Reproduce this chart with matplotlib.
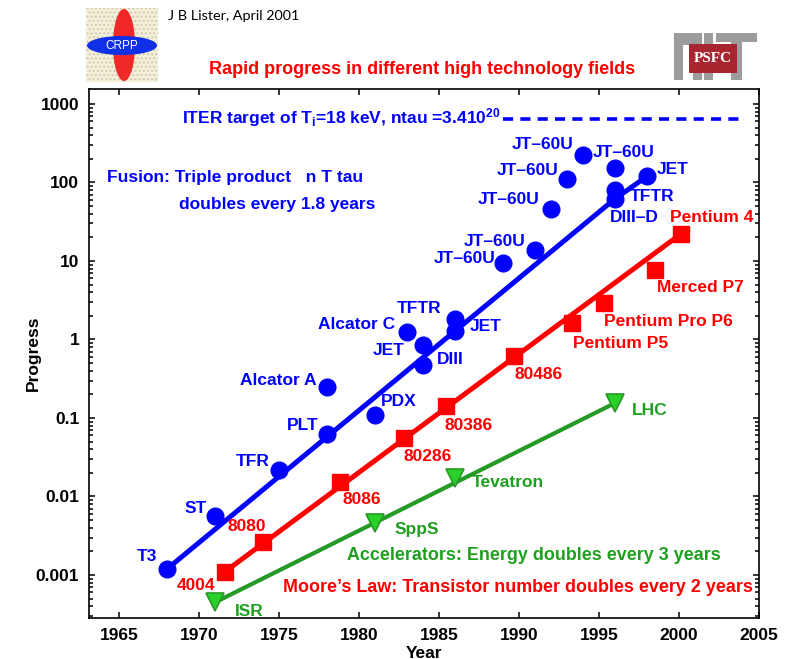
import matplotlib
matplotlib.use("Agg")
import matplotlib.pyplot as plt
from matplotlib.patches import Ellipse, Rectangle

plt.rcParams['font.family'] = ['Liberation Sans', 'DejaVu Sans']
plt.rcParams['mathtext.fontset'] = 'custom'
plt.rcParams['mathtext.rm'] = 'Liberation Sans:bold'
plt.rcParams['mathtext.it'] = 'Liberation Sans:bold'
plt.rcParams['mathtext.bf'] = 'Liberation Sans:bold'

# ---- Fusion: triple product n T tau ----
fusion_years = [1968, 1971, 1975, 1978, 1978, 1981, 1983, 1984, 1984, 1986,
                1986, 1989, 1991, 1992, 1993, 1994, 1996, 1996, 1996, 1998]
fusion_values = [0.0012, 0.0056, 0.022, 0.063, 0.25, 0.11, 1.24, 0.85, 0.47, 1.8,
                 1.3, 9.4, 13.8, 46, 111, 224, 153, 80, 62, 120]
fusion_labels = ['T3', 'ST', 'TFR', 'PLT', 'Alcator A', 'PDX', 'Alcator C', 'JET', 'DIII', 'TFTR',
                 'JET', 'JT–60U', 'JT–60U', 'JT–60U', 'JT–60U', 'JT–60U', 'JT–60U', 'TFTR', 'DIII–D', 'JET']
fusion_trend_years = [1968, 1996, 1998]
fusion_trend_values = [0.0012, 62, 120]

# ---- Moore's law: transistor count ----
moore_years = [1971.6, 1974.0, 1978.8, 1982.8, 1985.4, 1989.7, 1993.3, 1995.3, 1998.5, 2000.1]
moore_values = [0.0011, 0.0026, 0.0153, 0.056, 0.142, 0.62, 1.62, 2.9, 7.7, 22]
moore_labels = ['4004', '8080', '8086', '80286', '80386', '80486',
                'Pentium P5', 'Pentium Pro P6', 'Merced P7', 'Pentium 4']
moore_trend_years = [1971.6, 2000.1]
moore_trend_values = [0.0011, 22]

# ---- Accelerators: energy ----
acc_years = [1971, 1981, 1986, 1996]
acc_values = [0.00045, 0.0046, 0.0172, 0.155]
acc_labels = ['ISR', 'SppS', 'Tevatron', 'LHC']
acc_trend_years = [1971, 1996]
acc_trend_values = [0.00045, 0.155]

# ---- ITER target ----
iter_years = [1989, 2004]
iter_value = 640

x_ticks = [1965, 1970, 1975, 1980, 1985, 1990, 1995, 2000, 2005]
y_ticks = [0.001, 0.01, 0.1, 1, 10, 100, 1000]
y_ticklabels = ['0.001', '0.01', '0.1', '1', '10', '100', '1000']

# label placement (pixel offsets from the mark, y up) and alignment
fusion_offsets = [(-10, 12, 'right'), (-9, 8, 'right'), (-10, 8, 'right'), (-9, 8, 'right'),
                  (-11, 6, 'right'), (6, 13, 'left'), (-12, 8, 'right'), (-19, -6, 'right'),
                  (14, 6, 'left'), (-14, 11, 'right'), (15, 4, 'left'), (-8, 5, 'right'),
                  (-10, 8, 'right'), (-12, 9, 'right'), (-9, 8, 'right'), (-10, 10, 'right'),
                  (-22, 15, 'left'), (15, -6, 'left'), (-5, -19, 'left'), (10, 7, 'left')]
moore_offsets = [(-10, -14, 'right'), (3, 16, 'right'), (2, -18, 'left'), (-1, -19, 'left'),
                 (-1, -19, 'left'), (0, -19, 'left'), (1, -20, 'left'), (0, -18, 'left'),
                 (2, -18, 'left'), (-11, 17, 'left')]
acc_offsets = [(20, -9, 'left'), (19, -7, 'left'), (17, -5, 'left'), (17, -7, 'left')]

W, H = 789, 659
BLUE = '#0000ff'
RED = '#ff0000'
GREEN_LINE = '#259a25'
GREEN_FACE = '#2ad02a'
GREEN_TEXT = '#1f9f1f'
FS = 12.5
PX = 0.72  # points per pixel at 100 dpi

fig = plt.figure(figsize=(W / 100, H / 100), dpi=100)
ax = fig.add_axes([89 / W, 1 - 618 / H, (759 - 89) / W, (618 - 89) / H])
ax.set_yscale('log')
ax.set_xlim(1963.1, 2005)
ax.set_ylim(2.83e-4, 1550)

# trend lines
ax.plot(fusion_trend_years, fusion_trend_values, color=BLUE, lw=3.6, solid_capstyle='round', zorder=2)
ax.plot(moore_trend_years, moore_trend_values, color=RED, lw=3.6, solid_capstyle='round', zorder=2)
ax.plot(acc_trend_years, acc_trend_values, color=GREEN_LINE, lw=3.0, solid_capstyle='round', zorder=2)
ax.plot(iter_years, [iter_value, iter_value], color=BLUE, lw=2.6,
        linestyle=(0, (2.8, 2.0)), zorder=2)

# data points
ax.plot(fusion_years, fusion_values, 'o', ms=12, color=BLUE, mec=BLUE, zorder=3)
ax.plot(moore_years, moore_values, 's', ms=11, color=RED, mec=RED, zorder=3)
ax.plot(acc_years, acc_values, 'v', ms=13, color=GREEN_FACE, mec=GREEN_LINE, mew=1.2, zorder=3)


def label_points(xs, ys, names, offsets, color):
    for x, y, name, (dx, dy, ha) in zip(xs, ys, names, offsets):
        ax.annotate(name, xy=(x, y), xytext=(dx * PX, dy * PX), textcoords='offset points',
                    ha=ha, va='center', color=color, fontsize=FS, fontweight='bold', zorder=4)


label_points(fusion_years, fusion_values, fusion_labels, fusion_offsets, BLUE)
label_points(moore_years, moore_values, moore_labels, moore_offsets, RED)
label_points(acc_years, acc_values, acc_labels, acc_offsets, GREEN_TEXT)


def fig_text(x, y, s, **kw):
    fig.text(x / W, 1 - y / H, s, **kw)


fig_text(182, 118, r'ITER target of T$_{\mathrm{i}}$=18 keV, ntau =3.410$^{\mathrm{20}}$',
         color=BLUE, fontsize=FS, fontweight='bold', va='center')
fig_text(107, 178, 'Fusion: Triple product   n T tau', color=BLUE, fontsize=FS,
         fontweight='bold', va='center')
fig_text(179, 205, 'doubles every 1.8 years', color=BLUE, fontsize=FS,
         fontweight='bold', va='center')
fig_text(347, 556, 'Accelerators: Energy doubles every 3 years', color=GREEN_TEXT,
         fontsize=12.9, fontweight='bold', va='center')
fig_text(283, 588, "Moore’s Law: Transistor number doubles every 2 years", color=RED,
         fontsize=12.9, fontweight='bold', va='center')
fig_text(422, 70, 'Rapid progress in different high technology fields', color=RED,
         fontsize=13, fontweight='bold', ha='center', va='center')
fig_text(168, 16, 'J B Lister, April 2001', color='black', fontsize=10.4,
         family=['Lato', 'DejaVu Sans'], va='center')

# axes styling
ax.set_xticks(x_ticks)
ax.set_xticklabels([str(t) for t in x_ticks])
ax.set_yticks(y_ticks)
ax.set_yticklabels(y_ticklabels)
for lab in ax.get_xticklabels() + ax.get_yticklabels():
    lab.set_fontweight('bold')
    lab.set_fontsize(FS)
ax.tick_params(which='both', direction='in', top=True, right=True, width=1.1)
ax.tick_params(which='major', length=4.5, pad=7)
ax.tick_params(which='minor', length=2.8)
ax.xaxis.set_minor_locator(matplotlib.ticker.NullLocator())
for sp in ax.spines.values():
    sp.set_linewidth(1.2)
ax.set_xlabel('Year', fontsize=FS, fontweight='bold', labelpad=2)
ax.set_ylabel('Progress', fontsize=FS, fontweight='bold')
ax.yaxis.set_label_coords((41 - 89) / (759 - 89), 0.5)

# CRPP logo
lax = fig.add_axes([86 / W, 1 - 82 / H, 72 / W, 74 / H])
lax.set_xlim(86, 158)
lax.set_ylim(82, 8)
lax.axis('off')
lax.add_patch(Rectangle((86, 8), 72, 74, facecolor='#f3efd8', edgecolor='#cfcab0',
                        hatch='....', lw=0))
lax.add_patch(Ellipse((124, 45), 22, 72, facecolor='#f02828', edgecolor='none'))
lax.add_patch(Ellipse((122, 45.5), 70, 19, facecolor='#1030e8', edgecolor='none'))
lax.text(122, 46, 'CRPP', color='white', fontsize=8.5, ha='center', va='center')

# MIT / PSFC logo
max_ = fig.add_axes([670 / W, 1 - 84 / H, 92 / W, 56 / H])
max_.set_xlim(670, 762)
max_.set_ylim(84, 28)
max_.axis('off')
grey = '#9c9c9c'
for (x0, y0, w, h) in [(674, 33, 9, 47), (683, 33, 10, 12), (693, 33, 9, 47),
                       (704, 33, 9, 47), (716, 33, 41, 9), (731, 33, 11, 47)]:
    max_.add_patch(Rectangle((x0, y0), w, h, facecolor=grey, edgecolor='none'))
max_.add_patch(Rectangle((689, 44), 48, 29, facecolor='#a82630', edgecolor='none'))
max_.text(713, 58.5, 'PSFC', color='white', fontsize=11, ha='center', va='center',
          family=['Liberation Serif', 'DejaVu Serif'], fontweight='bold')

fig.savefig('out.png', dpi=100)
